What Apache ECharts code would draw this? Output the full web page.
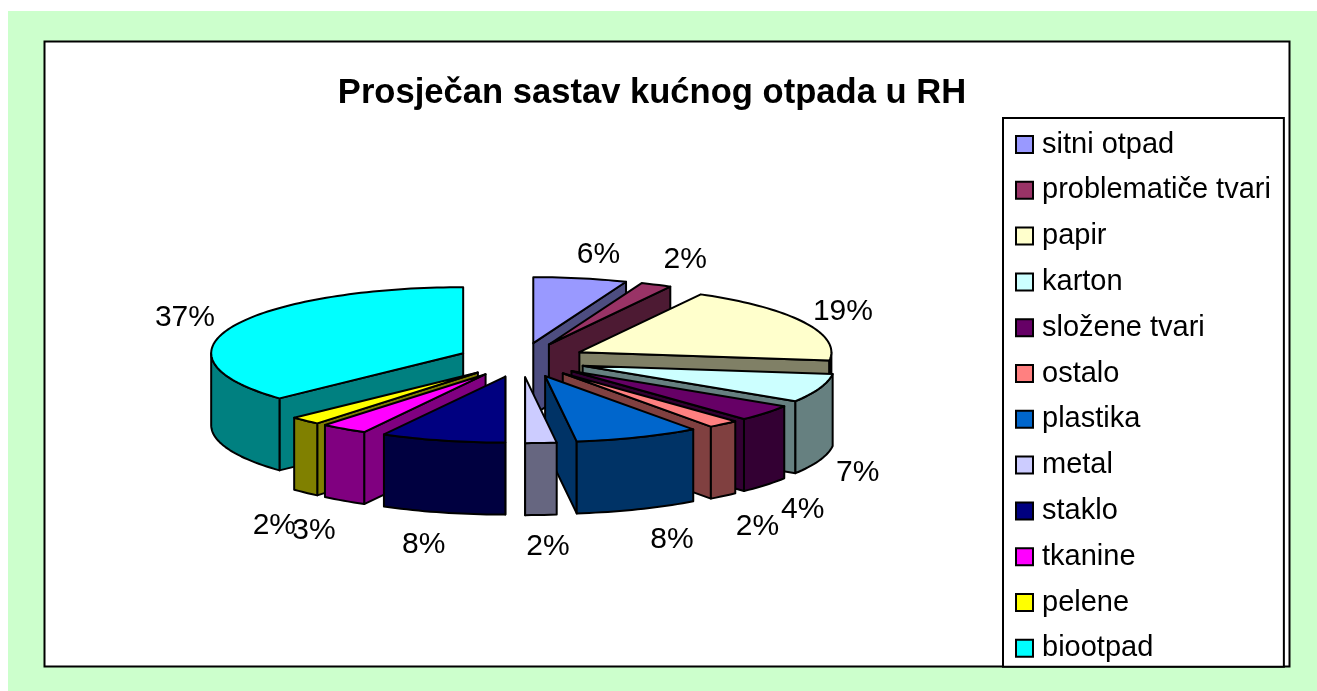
<!DOCTYPE html>
<html>
<head>
<meta charset="utf-8">
<title>Prosječan sastav kućnog otpada u RH</title>
<script src="https://cdn.jsdelivr.net/npm/echarts@6/dist/echarts.min.js"></script>
<style>
  html, body { margin: 0; padding: 0; background: #fff; }
  #chart { width: 1317px; height: 691px; }
</style>
</head>
<body>
<div id="chart"></div>
<script>
const categories = ['sitni otpad', 'problematiče tvari', 'papir', 'karton', 'složene tvari', 'ostalo',
  'plastika', 'metal', 'staklo', 'tkanine', 'pelene', 'biootpad'];
const shares = [6, 2, 19, 7, 4, 2, 8, 2, 8, 3, 2, 37];
const topColors = ['#9999FF', '#993366', '#FFFFCC', '#CCFFFF', '#660066', '#FF8080',
  '#0066CC', '#CCCCFF', '#000080', '#FF00FF', '#FFFF00', '#00FFFF'];

// label offset from the slice's outer rim point, px
const labelOffsets = [[18, -24], [29, -25], [39, -11], [38, 85], [37, 97], [34, 103],
  [34, 102], [7, 104], [-19, 104], [-30, 102], [-31, 105], [-47, -9]];

// pie geometry, px
const cx = 521, cy = 360, rx = 252, ry = 66, depth = 72;
const explodeRight = 0.26, explodeLeft = 0.25, explodeY = 0.26;
const fontName = '"Liberation Sans", Arial, sans-serif';

const total = shares.reduce((a, b) => a + b, 0);
let running = 0;
const slices = shares.map((v, i) => {
  const start = running / total * 360;
  running += v;
  const end = running / total * 360;
  return { i, start, end, mid: (start + end) / 2 };
});

const rad = d => d * Math.PI / 180;
const rim = d => [rx * Math.sin(rad(d)), -ry * Math.cos(rad(d))];

// walls are the top colour at half brightness
const halfShade = hex => {
  const n = parseInt(hex.slice(1), 16);
  const c = [n >> 16, (n >> 8) & 255, n & 255].map(x => Math.round(x / 2));
  return `rgb(${c.join(',')})`;
};

const arcPoints = (x, y, from, to) => {
  const pts = [];
  const steps = Math.max(2, Math.ceil((to - from) / 1.5));
  for (let k = 0; k <= steps; k++) {
    const p = rim(from + (to - from) * k / steps);
    pts.push([x + p[0], y + p[1]]);
  }
  return pts;
};

const drop = pts => pts.map(p => [p[0], p[1] + depth]);

const poly = (points, fill, z2) => ({
  type: 'polygon',
  z2: z2,
  shape: { points: points },
  style: { fill: fill, stroke: '#000', lineWidth: 2, lineJoin: 'round' }
});

const renderSlice = s => () => {
  const m = rim(s.mid);
  const ax = cx + m[0] * (s.mid < 180 ? explodeRight : explodeLeft);
  const ay = cy + m[1] * explodeY;
  const color = topColors[s.i];
  const wall = halfShade(color);
  const children = [];

  // cut face towards the viewer
  const faceAngle = s.mid < 180 ? s.end : s.start;
  const fp = rim(faceAngle);
  const edge = [[ax, ay], [ax + fp[0], ay + fp[1]]];
  children.push(poly(edge.concat(drop(edge).reverse()), wall, 1));

  // outer wall, only the part on the front half
  const wallFrom = Math.max(s.start, 90);
  const wallTo = Math.min(s.end, 270);
  if (wallTo > wallFrom) {
    const arc = arcPoints(ax, ay, wallFrom, wallTo);
    children.push(poly(arc.concat(drop(arc).reverse()), wall, 2));
  }

  children.push(poly([[ax, ay]].concat(arcPoints(ax, ay, s.start, s.end)), color, 3));

  const off = labelOffsets[s.i];
  children.push({
    type: 'text',
    z2: 10,
    style: {
      text: shares[s.i] + '%',
      x: ax + m[0] + off[0],
      y: ay + m[1] + off[1],
      align: 'center',
      verticalAlign: 'middle',
      font: '30px ' + fontName,
      fill: '#000'
    }
  });
  return { type: 'group', children: children };
};

// furthest from the front gets painted first
const paintOrder = slices.slice().sort((a, b) => Math.abs(b.mid - 180) - Math.abs(a.mid - 180));

const chart = echarts.init(document.getElementById('chart'));
chart.setOption({
  animation: false,
  backgroundColor: '#fff',
  title: {
    text: 'Prosječan sastav kućnog otpada u RH',
    left: 647,
    top: 71,
    textAlign: 'center',
    textStyle: { fontFamily: fontName, fontSize: 34.6, fontWeight: 'bold', color: '#000' }
  },
  legend: {
    orient: 'vertical',
    left: 1003,
    top: 118,
    padding: [12, 13, 4, 12],
    itemWidth: 17,
    itemHeight: 17,
    itemGap: 16.8,
    icon: 'rect',
    borderColor: '#000',
    borderWidth: 2,
    backgroundColor: '#fff',
    selectedMode: false,
    data: categories,
    itemStyle: { borderColor: '#000', borderWidth: 2 },
    textStyle: { fontFamily: fontName, fontSize: 29, color: '#000', lineHeight: 29, padding: [0, 0, 0, 4] }
  },
  graphic: [
    { type: 'rect', z: -2, silent: true, shape: { x: 8, y: 11, width: 1309, height: 680 }, style: { fill: '#CCFFCC' } },
    { type: 'rect', z: -1, silent: true, shape: { x: 44.5, y: 41.5, width: 1245, height: 625 },
      style: { fill: '#fff', stroke: '#000', lineWidth: 2 } }
  ],
  series: paintOrder.map(s => ({
    type: 'custom',
    name: categories[s.i],
    coordinateSystem: 'none',
    silent: true,
    itemStyle: { color: topColors[s.i] },
    data: [shares[s.i]],
    renderItem: renderSlice(s)
  }))
});

window.addEventListener('resize', () => chart.resize());
</script>
</body>
</html>
